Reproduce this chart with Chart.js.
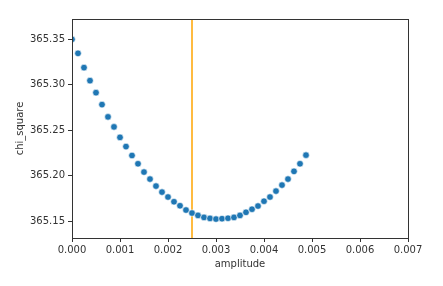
<!DOCTYPE html>
<html><head><meta charset="utf-8">
<script src="https://cdn.jsdelivr.net/npm/chart.js@4/dist/chart.umd.min.js"></script>
<style>html,body{margin:0;padding:0;background:#fff}#wrap{width:443px;height:286px}</style>
</head><body><div id="wrap"><canvas id="c" width="443" height="286"></canvas></div>
<script>
const amplitude = [0.000000,0.000125,0.000250,0.000375,0.000500,0.000625,0.000750,0.000875,0.001000,0.001125,
  0.001250,0.001375,0.001500,0.001625,0.001750,0.001875,0.002000,0.002125,0.002250,0.002375,
  0.002500,0.002625,0.002750,0.002875,0.003000,0.003125,0.003250,0.003375,0.003500,0.003625,
  0.003750,0.003875,0.004000,0.004125,0.004250,0.004375,0.004500,0.004625,0.004750,0.004875];
const chiSquare = [365.3500,365.3346,365.3189,365.3046,365.2914,365.2783,365.2648,365.2538,365.2423,365.2322,
  365.2224,365.2133,365.2042,365.1965,365.1888,365.1822,365.1768,365.1716,365.1672,365.1625,
  365.1592,365.1566,365.1544,365.1533,365.1526,365.1530,365.1535,365.1544,365.1566,365.1600,
  365.1634,365.1669,365.1722,365.1768,365.1833,365.1899,365.1965,365.2050,365.2133,365.2228];
const markerAmplitude = 0.0025;
const xTicks = [0.000,0.001,0.002,0.003,0.004,0.005,0.006,0.007];
const yTicks = [365.15,365.20,365.25,365.30,365.35];
const xRange = [0, 0.007];
const yRange = [365.1318, 365.3723];

const points = amplitude.map((a,i)=>({x:a,y:chiSquare[i]}));
const vline = [{x:markerAmplitude,y:yRange[0]},{x:markerAmplitude,y:yRange[1]}];

const frame = {
  id:'frame',
  afterDatasetsDraw(chart){
    const {ctx, chartArea:a} = chart;
    ctx.save();
    ctx.strokeStyle = '#333';
    ctx.lineWidth = 1;
    ctx.strokeRect(Math.round(a.left)+0.5, Math.round(a.top)+0.5, Math.round(a.right-a.left), Math.round(a.bottom-a.top));
    ctx.restore();
  }
};

const font = {family:'DejaVu Sans', size:10};
new Chart(document.getElementById('c'), {
  type:'scatter',
  data:{datasets:[
    {data:points, backgroundColor:'#1f77b4', borderColor:'#ffffff', borderWidth:0.6, pointRadius:3.3, pointHoverRadius:3.3, order:1},
    {type:'line', data:vline, borderColor:'#ffa500', borderWidth:1.5, pointRadius:0, showLine:true, fill:false, order:2}
  ]},
  options:{
    responsive:false, animation:false,
    layout:{padding:{left:0,right:35,top:19,bottom:0}},
    plugins:{legend:{display:false}, tooltip:{enabled:false}},
    scales:{
      x:{type:'linear', min:xRange[0], max:xRange[1],
        afterFit(s){s.height=48;},
        afterBuildTicks(s){s.ticks = xTicks.map(v=>({value:v}));},
        grid:{display:true, drawOnChartArea:false, drawTicks:true, tickLength:4, color:'#333', tickWidth:1},
        border:{display:false},
        ticks:{font, color:'#333', padding:2, maxRotation:0, autoSkip:false, callback:v=>v.toFixed(3)},
        title:{display:true, text:'amplitude', font, color:'#333', padding:{top:16,bottom:16}}
      },
      y:{type:'linear', min:yRange[0], max:yRange[1],
        afterFit(s){s.width=72;},
        afterBuildTicks(s){s.ticks = yTicks.map(v=>({value:v}));},
        grid:{display:true, drawOnChartArea:false, drawTicks:true, tickLength:4, color:'#333', tickWidth:1},
        border:{display:false},
        ticks:{font, color:'#333', padding:3, autoSkip:false, callback:v=>v.toFixed(2)},
        title:{display:true, text:'chi_square', font, color:'#333', padding:{top:14,bottom:14}}
      }
    }
  },
  plugins:[frame]
});
</script></body></html>
